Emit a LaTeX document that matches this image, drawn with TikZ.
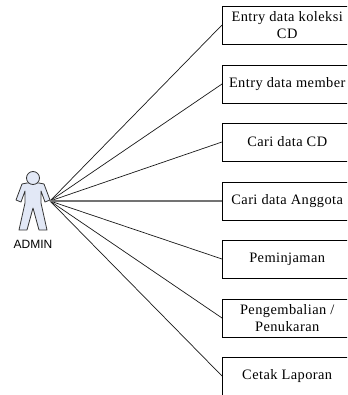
\documentclass[tikz,border=0pt]{standalone}
\usepackage{fontspec}
\newfontfamily\boxfont[LetterSpace=3]{Liberation Serif}
\newfontfamily\actorfont{Liberation Sans}
\definecolor{actorblue}{RGB}{226,232,246}
\tikzset{
    menu box/.style={
        draw,thin,
        minimum width=130pt,minimum height=38.5pt,
        anchor=west,align=center,inner sep=0pt,
        font=\boxfont\fontsize{14.4}{17}\selectfont
    },
    actor line/.style={draw=black!90,line width=.7pt},
    actor body/.style={draw=black!80,line width=.8pt,fill=actorblue,line join=round}
}

\begin{document}
\begin{tikzpicture}[x=1pt,y=-1pt]
        \useasboundingbox (0,0) rectangle (347,395);
        \clip (0,0) rectangle (347,395);
        \coordinate (hand) at (50,201);
        \foreach \y/\name/\label in {25/koleksi/{Entry data koleksi\\CD},84/member/Entry data member,142/cari/Cari data CD,201/anggota/Cari data Anggota,259/pinjam/Peminjaman,318/kembali/{Pengembalian /\\Penukaran},376/laporan/Cetak Laporan}
            \node[menu box] (\name) at (222,\y) {\label};
        \foreach \name in {koleksi,member,cari,pinjam,kembali,laporan}
            \draw[actor line] (hand) -- (\name.west);
        \draw[draw=black!55,line width=1.2pt] (hand) -- (anggota.west);
        \draw[actor body] (27,183) -- (39,183) -- (44,184) -- (50,200) -- (45,202) -- (41,191) -- (41,203) -- (47,230) -- (39,230) -- (33,208) -- (27,230) -- (19,230) -- (25,203) -- (25,191) -- (21,202) -- (16,200) -- (22,184) -- cycle;
        \draw[actor body] (33,178) circle (6.5);
        \node[font=\actorfont\fontsize{12}{13}\selectfont,inner sep=0pt] (admin) at (33,244) {ADMIN};
    \end{tikzpicture}
\end{document}
